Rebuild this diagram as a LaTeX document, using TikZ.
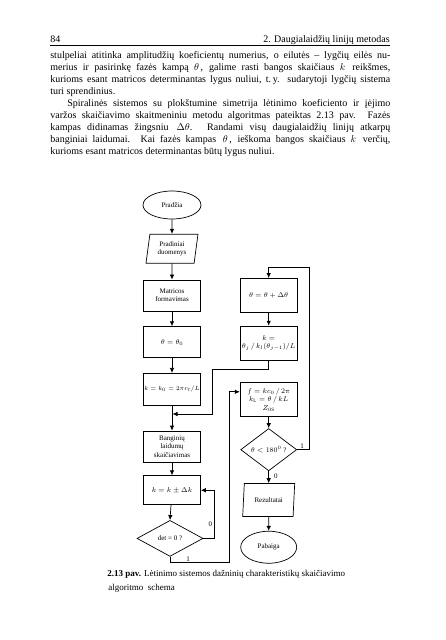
\documentclass[tikz,border=0pt]{standalone}
\usepackage{fontspec}
\setmainfont{Liberation Serif}
\usepackage{amsmath}
\usepackage{tikz}
\usetikzlibrary{shapes.geometric, positioning, arrows.meta, calc}

\tikzset{
  blokas/.style={draw, rectangle, minimum width=57pt, minimum height=31pt,
    align=center, inner sep=1pt, font=\fontsize{7}{8.5}\selectfont},
  pradzpab/.style={draw, ellipse, minimum width=58pt, minimum height=28pt,
    inner sep=0pt, font=\fontsize{7}{8.5}\selectfont},
  duomblok/.style={draw, trapezium, trapezium left angle=77, trapezium right angle=103,
    trapezium stretches body, minimum width=52pt, minimum height=29pt,
    inner sep=1pt, align=center, font=\fontsize{7}{8.5}\selectfont},
  salyga/.style={draw, diamond, minimum width=66pt, minimum height=36pt,
    inner sep=0pt, font=\fontsize{7}{8.5}\selectfont},
  zyme/.style={font=\fontsize{7}{8}\selectfont, inner sep=1pt}
}

\begin{document}
\begin{tikzpicture}[x=1pt, y=-1pt, line width=0.7pt, >={Latex[length=5pt,width=4.5pt]}]
    \useasboundingbox (0,0) rectangle (445,640);

    % Header and text
    \node[anchor=base west, inner sep=0pt, font=\fontsize{10}{12}\selectfont] (psl) at (50,42) {84};
    \node[anchor=base east, inner sep=0pt, font=\fontsize{10}{12}\selectfont] (skyr) at (390,42) {2. Daugialaidžių linijų metodas};
    \draw[line width=0.9pt] (50,45) -- (390,45);
    \node[anchor=north west, inner sep=0pt, text width=340pt, align=justify,
          font=\fontsize{10}{12}\selectfont] (tekstas) at (50,51) {%
        stulpeliai atitinka amplitudžių koeficientų numerius, o eilutės – lygčių eilės nu-\linebreak
        merius ir pasirinkę fazės kampą $\theta$\,, galime rasti bangos skaičiaus $k$\, reikšmes,\linebreak
        kurioms esant matricos determinantas lygus nuliui, t.\,y. sudarytoji lygčių sistema\linebreak
        turi sprendinius.\par
        \hspace*{1.7em}Spiralinės sistemos su plokštumine simetrija lėtinimo koeficiento ir įėjimo\linebreak
        varžos skaičiavimo skaitmeniniu metodu algoritmas pateiktas 2.13~pav. Fazės\linebreak
        kampas didinamas žingsniu \,$\Delta\theta$. Randami visų daugialaidžių linijų atkarpų\linebreak
        banginiai laidumai. Kai fazės kampas \,$\theta$\,, ieškoma bangos skaičiaus $k$\, verčių,\linebreak
        kurioms esant matricos determinantas būtų lygus nuliui.};

    % Left column
    \node[pradzpab] (pradzia) at (172,205) {Pradžia};
    \node[duomblok,
          below=14.5pt of pradzia
          ] (duom) {Pradiniai\\duomenys};
    \node[blokas,
          below=16pt of duom
          ] (matr) {Matricos\\formavimas};
    \node[blokas,
          below=15pt of matr
          ] (tnul) {$\theta = \theta_0$};
    \node[blokas,
          below=15pt of tnul,
          minimum height=32pt,
          font=\fontsize{6.3}{8}\selectfont
          ] (knul) {$k = k_0 = 2\pi r_{\mathrm{T}}/L$};
    \node[blokas,
          below=25pt of knul
          ] (bang) {Banginių\\laidumų\\skaičiavimas};
    \node[blokas,
          below=13pt of bang,
          minimum height=29pt
          ] (kdk) {$k = k \pm \Delta k$};
    \node[salyga,
          below=15pt of kdk,
          xshift=-2pt
          ] (det) {det = 0 ?};

    % Right column
    \node[blokas,
          right=39pt of matr,
          minimum height=34pt
          ] (tinc) {$\theta = \theta + \Delta\theta$};
    \node[blokas,
          below=13pt of tinc,
          minimum height=34pt
          ] (kj) {$k =$\\$\theta_j\,/\,k_l(\theta_{j-1})/L$};
    \node[blokas,
          below=22pt of kj,
          minimum height=34pt
          ] (fbl) {$f = kc_0\,/\,2\pi$\\$k_{\mathrm{L}} = \theta\,/\,kL$\\$Z_{0\mathrm{S}}$};
    \node[salyga,
          below=11pt of fbl,
          minimum width=56pt, minimum height=34pt
          ] (tdec) {$\theta < 180^0$ ?};
    \node[duomblok,
          below=12pt of tdec,
          minimum height=33pt
          ] (rez) {Rezultatai};
    \node[pradzpab,
          below=14pt of rez,
          minimum width=56pt, minimum height=32pt
          ] (pab) {Pabaiga};

    \coordinate (sujung) at (172.5,414);
    \coordinate (lauzt) at (212,369);
    \coordinate (apac) at (229,562);

    % Arrows
    \draw[->] (pradzia) -- (duom);
    \draw[->] (duom) -- (matr);
    \draw[->] (matr) -- (tnul);
    \draw[->] (tnul) -- (knul);
    \draw[->] (knul) -- (bang);
    \draw[->] (bang) -- (kdk);
    \draw[->] (kdk) -- (det.north);
    \draw[->] (tinc) -- (kj);
    \draw[->] (kj.south) |- (lauzt) |- (sujung);
    \draw[->] (det.east) -- ++(11,0) |- (kdk.east);
    \node[zyme] (detnul) at ($(det.east)+(7,-14)$) {0};
    \draw[->] (det.south) |- (apac) |- ($(fbl.west)+(0,-8)$);
    \node[zyme] (detvien) at ($(det.south)+(18,2)$) {1};
    \draw[->] (fbl) -- (tdec);
    \draw[->] (tdec.south) -- (rez.north)
        node[zyme, pos=0.4, right=4pt] {0};
    \draw[->] (rez) -- (pab);
    \draw[->] (tdec.east) -- ++(12,0) |- ($(tinc.north)+(0,-11)$) -- (tinc.north);
    \node[zyme, above right=0pt and 2pt of tdec.east] (vienas) {1};

    % Caption
    \node[anchor=north west, inner sep=0pt, align=left,
          font=\fontsize{9}{13.5}\selectfont] (antr) at (107,570)
        {\textbf{2.13 pav.} Lėtinimo sistemos dažninių charakteristikų skaičiavimo\\
         \hspace*{1pt}algoritmo\ \ schema};
\end{tikzpicture}
\end{document}
